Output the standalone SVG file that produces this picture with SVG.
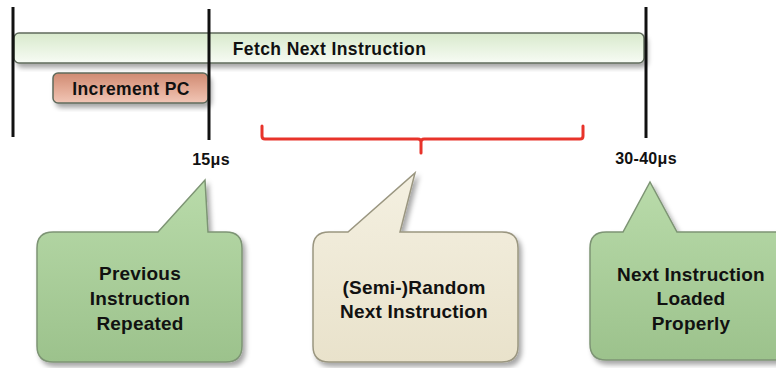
<svg xmlns="http://www.w3.org/2000/svg" width="776" height="368" viewBox="0 0 776 368">
<defs>
<linearGradient id="gFetch" x1="0" y1="0" x2="0" y2="1">
<stop offset="0" stop-color="#d8e9cc"/><stop offset="0.45" stop-color="#e6f2de"/><stop offset="1" stop-color="#f7fbf4"/>
</linearGradient>
<linearGradient id="gInc" x1="0" y1="0" x2="0" y2="1">
<stop offset="0" stop-color="#cf8a72"/><stop offset="0.5" stop-color="#e2a893"/><stop offset="1" stop-color="#f1c6b6"/>
</linearGradient>
<linearGradient id="gGreen" x1="0" y1="0" x2="0" y2="1">
<stop offset="0" stop-color="#b9dbaa"/><stop offset="1" stop-color="#9cc28c"/>
</linearGradient>
<linearGradient id="gBeige" x1="0" y1="0" x2="0" y2="1">
<stop offset="0" stop-color="#f4f0e1"/><stop offset="1" stop-color="#e9e2cb"/>
</linearGradient>
<filter id="sh" x="-10%" y="-20%" width="130%" height="150%">
<feDropShadow dx="3" dy="4" stdDeviation="2.5" flood-color="#000" flood-opacity="0.35"/>
</filter>
</defs>
<style>
.bar{stroke:#5f6b5c;stroke-width:1.5}
.call{stroke:#7d9474;stroke-width:1.5}
.callb{stroke:#9a9680;stroke-width:1.5}
.vl{stroke:#111;stroke-width:3}
text{font-family:"Liberation Sans",Arial,sans-serif;font-weight:bold;fill:#111;text-anchor:middle}
.t16{font-size:17.5px;letter-spacing:0.4px}
.t15{font-size:16px;letter-spacing:0.3px}
.t18{font-size:19px;letter-spacing:0.2px}
</style>
<g id="fetch">
<rect class="bar" x="14" y="33" width="630" height="30" rx="5" fill="url(#gFetch)" filter="url(#sh)"/>
<text class="t16" x="329.5" y="55">Fetch Next Instruction</text>
</g>
<g id="increment">
<rect class="bar" x="53" y="73" width="155" height="30" rx="5" fill="url(#gInc)" filter="url(#sh)"/>
<text class="t16" x="131" y="95">Increment PC</text>
</g>
<g id="timeline">
<line class="vl" x1="13" y1="7" x2="13" y2="137"/>
<line class="vl" x1="209" y1="9" x2="209" y2="140"/>
<line class="vl" x1="646" y1="7" x2="646" y2="138"/>
<text class="t15" x="211" y="165">15μs</text>
<text class="t15" x="646" y="164">30-40μs</text>
</g>
<g id="bracket">
<path d="M262 126 V136 Q262 139 265 139 H418 Q421 139 421 142 V153 M421 142 Q421 139 424 139 H580 Q583 139 583 136 V126" fill="none" stroke="#e8332a" stroke-width="3" stroke-linecap="round"/>
</g>
<g id="callout1">
<path class="call" d="M53 232 H158 L205 180 L208 232 H226 Q242 232 242 248 V346 Q242 362 226 362 H53 Q37 362 37 346 V248 Q37 232 53 232 Z" fill="url(#gGreen)" filter="url(#sh)"/>
<text class="t18" x="140" y="280">Previous</text>
<text class="t18" x="140" y="305">Instruction</text>
<text class="t18" x="140" y="330">Repeated</text>
</g>
<g id="callout2">
<path class="callb" d="M329 232 H348 L415 173 L400 232 H502 Q518 232 518 248 V346 Q518 362 502 362 H329 Q313 362 313 346 V248 Q313 232 329 232 Z" fill="url(#gBeige)" filter="url(#sh)"/>
<text class="t18" x="414" y="294">(Semi-)Random</text>
<text class="t18" x="414" y="318">Next Instruction</text>
</g>
<g id="callout3">
<path class="call" d="M606 232 H623 L650 182 L677 232 H790 Q806 232 806 248 V344 Q806 360 790 360 H606 Q590 360 590 344 V248 Q590 232 606 232 Z" fill="url(#gGreen)" filter="url(#sh)"/>
<text class="t18" x="691" y="281">Next Instruction</text>
<text class="t18" x="691" y="305">Loaded</text>
<text class="t18" x="691" y="330">Properly</text>
</g>
</svg>
